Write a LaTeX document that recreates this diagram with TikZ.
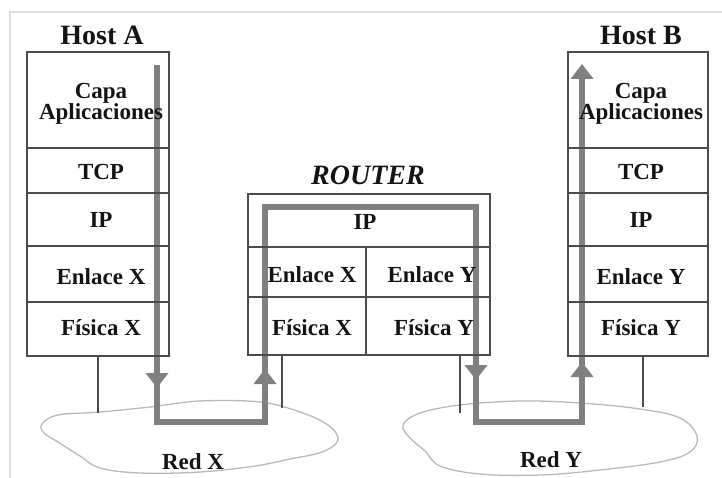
\documentclass[tikz,border=0pt]{standalone}
\usepackage{fontspec}
\setmainfont{Liberation Serif}
\usetikzlibrary{arrows.meta}
\definecolor{boxline}{RGB}{75,75,75}
\definecolor{flowgray}{RGB}{128,128,128}
\definecolor{cloudline}{RGB}{185,185,185}
\definecolor{framegray}{RGB}{222,222,222}
\definecolor{txt}{RGB}{20,20,20}
\tikzset{
  cell/.style={draw=boxline, line width=1.4pt, rectangle, inner sep=0pt},
  lab/.style={font=\fontsize{23}{24}\selectfont\bfseries, text=txt, inner sep=0pt, align=center},
  ttl/.style={font=\fontsize{28}{30}\selectfont\bfseries, text=txt, inner sep=0pt},
  flow/.style={draw=flowgray, line width=6pt, line join=miter},
  headtip/.style={-{Triangle[width=22pt,length=15pt]}},
  leg/.style={draw=boxline, line width=1.4pt},
  cloud/.style={draw=cloudline, line width=1.3pt, fill=white},
}
\begin{document}
\begin{tikzpicture}[x=1pt,y=-1pt]
\useasboundingbox (0,0) rectangle (722,478);
% frame
\draw[framegray, line width=1.2pt] (10,478) -- (10,12) -- (722,12);
% clouds
\draw[cloud] plot[smooth cycle, tension=0.6] coordinates {(42,424) (58,415) (100,412) (150,407) (200,401) (260,402) (300,412) (328,425) (338,440) (322,452) (290,459) (255,466) (200,472) (140,473) (100,468) (80,456) (58,442) (44,433)};
\draw[cloud] plot[smooth cycle, tension=0.6] coordinates {(403,425) (420,413) (460,405) (520,401) (580,403) (640,409) (680,418) (697,436) (690,452) (660,462) (600,470) (540,475) (480,474) (440,466) (425,451) (410,438)};
% flow path
\coordinate (p0) at (157,65);
\coordinate (p1) at (157,422);
\coordinate (p2) at (265,422);
\coordinate (p3) at (265,207);
\coordinate (p4) at (476,207);
\coordinate (p5) at (476,422);
\coordinate (p6) at (582,422);
\coordinate (p7) at (582,64);
\draw[flow, headtip] (p0) -- (p1) -- (p2) -- (p3) -- (p4) -- (p5) -- (p6) -- (p7);
\coordinate (h1s) at (157,372); \coordinate (h1) at (157,388);
\coordinate (h2s) at (265,384); \coordinate (h2) at (265,369);
\coordinate (h3s) at (476,364); \coordinate (h3) at (476,380);
\coordinate (h4s) at (582,378); \coordinate (h4) at (582,362);
\draw[flow, headtip] (h1s) -- (h1);
\draw[flow, headtip] (h2s) -- (h2);
\draw[flow, headtip] (h3s) -- (h3);
\draw[flow, headtip] (h4s) -- (h4);
% Host A
\node[cell, minimum width=142pt, minimum height=96pt] (aCapa) at (98,100) {};
\node[cell, minimum width=142pt, minimum height=45pt] (aTcp) at (98,170.5) {};
\node[cell, minimum width=142pt, minimum height=53pt] (aIp) at (98,219.5) {};
\node[cell, minimum width=142pt, minimum height=56pt] (aEnl) at (98,274) {};
\node[cell, minimum width=142pt, minimum height=54pt] (aFis) at (98,329) {};
% Host B
\node[cell, minimum width=140pt, minimum height=96pt] (bCapa) at (638,100) {};
\node[cell, minimum width=140pt, minimum height=45pt] (bTcp) at (638,170.5) {};
\node[cell, minimum width=140pt, minimum height=53pt] (bIp) at (638,219.5) {};
\node[cell, minimum width=140pt, minimum height=56pt] (bEnl) at (638,274) {};
\node[cell, minimum width=140pt, minimum height=54pt] (bFis) at (638,329) {};
% Router
\node[cell, minimum width=242pt, minimum height=53pt] (rIp) at (369,220.5) {};
\node[cell, minimum width=118pt, minimum height=50pt] (rEnlX) at (307,272) {};
\node[cell, minimum width=124pt, minimum height=50pt] (rEnlY) at (428,272) {};
\node[cell, minimum width=118pt, minimum height=58pt] (rFisX) at (307,326) {};
\node[cell, minimum width=124pt, minimum height=58pt] (rFisY) at (428,326) {};
% legs
\coordinate (cA) at (98,413);
\coordinate (cR1) at (282,408);
\coordinate (cR2) at (460,413);
\coordinate (cB) at (643,407);
\draw[leg] (aFis.south -| cA) -- (cA);
\draw[leg] (rFisX.south -| cR1) -- (cR1);
\draw[leg] (rFisY.south -| cR2) -- (cR2);
\draw[leg] (bFis.south -| cB) -- (cB);
% titles
\node[ttl] (tA) at (102,35) {Host A};
\node[ttl] (tB) at (641,35) {Host B};
\node[ttl, font=\fontsize{28}{30}\selectfont\bfseries\itshape] (tR) at (368,175) {ROUTER};
% labels
\node[lab] (lACapa) at (101,104) {Capa\\[-3pt]Aplicaciones};
\node[lab] (lATcp) at (101,172) {TCP};
\node[lab] (lAIp) at (101,220) {IP};
\node[lab] (lAEnl) at (101,277) {Enlace X};
\node[lab] (lAFis) at (101,328) {Física X};
\node[lab] (lBCapa) at (641,104) {Capa\\[-3pt]Aplicaciones};
\node[lab] (lBTcp) at (641,172) {TCP};
\node[lab] (lBIp) at (641,220) {IP};
\node[lab] (lBEnl) at (641,277) {Enlace Y};
\node[lab] (lBFis) at (641,328) {Física Y};
\node[lab] (lRIp) at (365,222) {IP};
\node[lab] (lREnlX) at (312,275) {Enlace X};
\node[lab] (lREnlY) at (432,275) {Enlace Y};
\node[lab] (lRFisX) at (312,328) {Física X};
\node[lab] (lRFisY) at (434,328) {Física Y};
\node[lab] (lRedX) at (193,462) {Red X};
\node[lab] (lRedY) at (551,460) {Red Y};
\end{tikzpicture}
\end{document}
